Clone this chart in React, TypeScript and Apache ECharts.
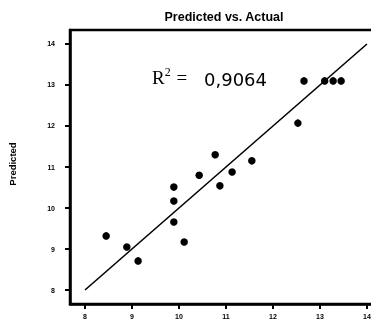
import React, { useEffect, useRef } from "react";
import * as echarts from "echarts";

const title = "Predicted vs. Actual";
const yName = "Predicted";
const r2Label = "R";
const r2Text = "0,9064";
const xTicks = [8, 9, 10, 11, 12, 13, 14];
const yTicks = [8, 9, 10, 11, 12, 13, 14];
const actual = [8.45, 8.89, 9.13, 9.89, 10.11, 9.89, 9.89, 10.43, 10.77, 10.87, 11.13, 11.55, 12.53, 12.66, 13.1, 13.28, 13.45];
const predicted = [9.32, 9.05, 8.71, 9.66, 9.17, 10.17, 10.51, 10.8, 11.3, 10.54, 10.88, 11.15, 12.07, 13.1, 13.1, 13.1, 13.1];
const fitLine = [[8, 8], [14, 14]];

export default function App() {
  const ref = useRef<HTMLDivElement>(null);
  useEffect(() => {
    if (!ref.current) return;
    const chart = echarts.init(ref.current, null, { renderer: "svg" });
    const points = actual.map((a, i) => [a, predicted[i]]);
    chart.setOption({
      animation: false,
      grid: {
        left: 70,
        top: 30,
        right: 0,
        bottom: 23,
        show: true,
        borderColor: "#000",
        borderWidth: 2.5,
      },
      xAxis: {
        type: "value",
        min: 7.681,
        max: 14.277,
        splitLine: { show: false },
        axisLine: { show: true, lineStyle: { color: "#000", width: 2.5 } },
        axisTick: { show: true, length: 5, lineStyle: { color: "#000", width: 2 }, customValues: xTicks },
        axisLabel: { customValues: xTicks, fontSize: 7, fontWeight: "bold", color: "#000", margin: 9, fontFamily: "Liberation Sans" },
      },
      yAxis: {
        type: "value",
        min: 7.659,
        max: 14.341,
        splitLine: { show: false },
        axisLine: { show: true, lineStyle: { color: "#000", width: 2.5 } },
        axisTick: { show: true, length: 5, lineStyle: { color: "#000", width: 2 }, customValues: yTicks },
        axisLabel: { customValues: yTicks, fontSize: 7, fontWeight: "bold", color: "#000", margin: 15, fontFamily: "Liberation Sans" },
      },
      graphic: [
        {
          type: "text",
          x: 224,
          y: 17,
          style: { text: title, fontSize: 12.5, fontWeight: 900, fill: "#000", fontFamily: "Liberation Sans", align: "center", verticalAlign: "middle" },
        },
        {
          type: "text",
          x: 12,
          y: 164,
          rotation: Math.PI / 2,
          style: { text: yName, fontSize: 9.5, fontWeight: 900, fill: "#000", fontFamily: "Liberation Sans", align: "center", verticalAlign: "middle" },
        },
        {
          type: "text",
          x: 152,
          y: 88,
          style: {
            rich: {
              r: { fontSize: 19, fontFamily: "Liberation Serif", fill: "#000" },
              s: { fontSize: 12, fontFamily: "Liberation Serif", fill: "#000", padding: [0, 1, 10, 0] },
            },
            text: "{r|" + r2Label + "}{s|2}{r| =}",
            verticalAlign: "bottom",
          },
        },
        {
          type: "text",
          x: 204,
          y: 88,
          style: { text: r2Text, fontSize: 18, fontFamily: "DejaVu Sans", fill: "#000", verticalAlign: "bottom" },
        },
      ],
      series: [
        {
          type: "line",
          data: fitLine,
          symbol: "none",
          lineStyle: { color: "#000", width: 1.6 },
          silent: true,
        },
        {
          type: "scatter",
          data: points,
          symbol: "circle",
          symbolSize: 7.5,
          itemStyle: { color: "#000", opacity: 1 },
        },
      ],
    });
    return () => chart.dispose();
  }, []);
  return <div ref={ref} style={{ position: "fixed", left: 0, top: 0, width: 380, height: 327 }} />;
}
